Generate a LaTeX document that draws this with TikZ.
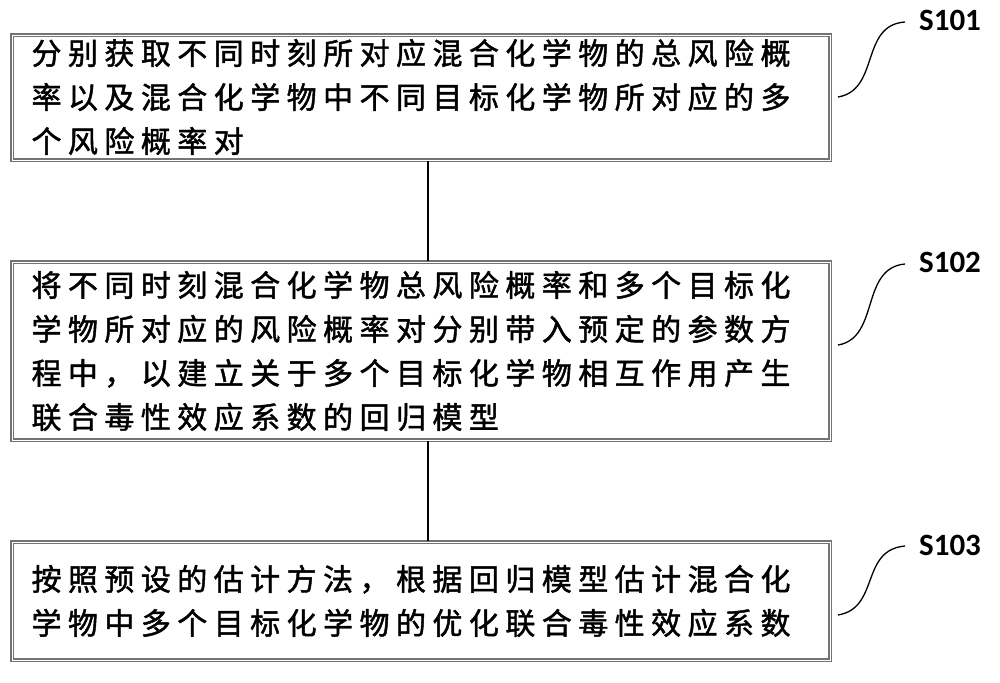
\documentclass[tikz,border=0pt]{standalone}
\usepackage{fontspec}
\newfontfamily\cjk[LetterSpace=21.5,FakeBold=1.5]{Noto Sans CJK SC}
\setmainfont{Carlito}
\begin{document}
\begin{tikzpicture}[x=1pt,y=-1pt,
  stepbox/.style={draw=black!55,line width=1.6pt,double=white,double distance=0.8pt,anchor=north west,inner sep=0pt},
  txt/.style={anchor=west,align=left,font=\cjk\fontsize{30}{44}\selectfont},
  lab/.style={font=\bfseries\fontsize{31}{34}\selectfont},
  con/.style={line width=1.3pt}]
\useasboundingbox (0,0) rectangle (1000,682);
\draw[stepbox] (12,35) rectangle (830,160);
\draw[stepbox] (12,262) rectangle (830,440);
\draw[stepbox] (12,542) rectangle (830,660);
\node[txt] (t1) at (28,97) {分别获取不同时刻所对应混合化学物的总风险概\\率以及混合化学物中不同目标化学物所对应的多\\个风险概率对};
\node[txt] (t2) at (28,351) {将不同时刻混合化学物总风险概率和多个目标化\\学物所对应的风险概率对分别带入预定的参数方\\程中，以建立关于多个目标化学物相互作用产生\\联合毒性效应系数的回归模型};
\node[txt] (t3) at (28,601) {按照预设的估计方法，根据回归模型估计混合化\\学物中多个目标化学物的优化联合毒性效应系数};
\coordinate (a1) at (428,161); \coordinate (b1) at (428,261);
\coordinate (a2) at (428,441); \coordinate (b2) at (428,541);
\draw[con] (a1) -- (b1);
\draw[con] (a2) -- (b2);
\node[lab] (s1) at (950,20) {S101};
\node[lab] (s2) at (950,262) {S102};
\node[lab] (s3) at (950,545) {S103};
\coordinate (c1) at (838,97); \coordinate (c2) at (838,345); \coordinate (c3) at (838,615);
\draw[con] (c1) .. controls (880,90) and (860,25) .. (905,22);
\draw[con] (c2) .. controls (880,338) and (860,268) .. (905,264);
\draw[con] (c3) .. controls (880,608) and (860,550) .. (905,546);
\end{tikzpicture}
\end{document}
